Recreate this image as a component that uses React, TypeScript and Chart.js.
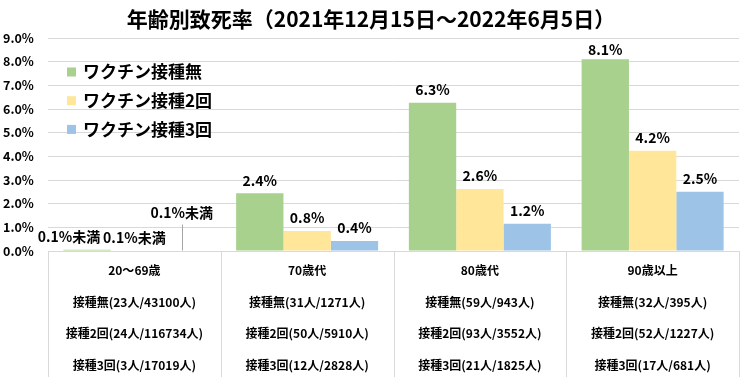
import React, { useEffect, useRef } from "react";
import { Chart, registerables } from "chart.js";

Chart.register(...registerables);

const FONT = "'Noto Sans CJK JP', 'Noto Sans', sans-serif";

const TITLE = "年齢別致死率（2021年12月15日～2022年6月5日）";

const CATEGORY_LINES: string[][] = [
  ["20～69歳", "接種無(23人/43100人)", "接種2回(24人/116734人)", "接種3回(3人/17019人)"],
  ["70歳代", "接種無(31人/1271人)", "接種2回(50人/5910人)", "接種3回(12人/2828人)"],
  ["80歳代", "接種無(59人/943人)", "接種2回(93人/3552人)", "接種3回(21人/1825人)"],
  ["90歳以上", "接種無(32人/395人)", "接種2回(52人/1227人)", "接種3回(17人/681人)"],
];

const SERIES_NAMES = ["ワクチン接種無", "ワクチン接種2回", "ワクチン接種3回"];

const UNVACCINATED = [0.05, 2.44, 6.26, 8.1];
const TWO_DOSES = [0.02, 0.85, 2.62, 4.24];
const THREE_DOSES = [0.02, 0.42, 1.15, 2.5];

const UNVACCINATED_LABELS = ["0.1%未満", "2.4%", "6.3%", "8.1%"];
const TWO_DOSES_LABELS = ["0.1%未満", "0.8%", "2.6%", "4.2%"];
const THREE_DOSES_LABELS = ["0.1%未満", "0.4%", "1.2%", "2.5%"];

const Y_MIN = 0;
const Y_MAX = 9;
const Y_STEP = 1;

const COLORS = ["#A9D18E", "#FFE699", "#9DC3E6"];
const GRID = "#D9D9D9";

// label placement tweaks for the crowded first group: [dx, extraRise, leaderLine]
const FIRST_GROUP_LABEL_SHIFT: [number, number, boolean][] = [
  [-18, 0, false],
  [0, 0, false],
  [0, 25, true],
];

const ALL_LABELS = [UNVACCINATED_LABELS, TWO_DOSES_LABELS, THREE_DOSES_LABELS];

const dataLabelPlugin = {
  id: "dataLabels",
  afterDatasetsDraw(chart: any) {
    const ctx = chart.ctx;
    ctx.save();
    ctx.font = `bold 14px ${FONT}`;
    ctx.fillStyle = "#000";
    ctx.textAlign = "center";
    ctx.textBaseline = "middle";
    chart.data.datasets.forEach((ds: any, di: number) => {
      const meta = chart.getDatasetMeta(di);
      meta.data.forEach((el: any, i: number) => {
        let dx = 0;
        let rise = 0;
        let leader = false;
        if (i === 0) {
          [dx, rise, leader] = FIRST_GROUP_LABEL_SHIFT[di];
        }
        const y = Math.max(el.y - 13 - rise, 50);
        if (leader) {
          ctx.save();
          ctx.strokeStyle = "#A6A6A6";
          ctx.lineWidth = 1;
          ctx.beginPath();
          ctx.moveTo(Math.round(el.x) + 0.5, y + 12);
          ctx.lineTo(Math.round(el.x) + 0.5, el.y);
          ctx.stroke();
          ctx.restore();
        }
        ctx.fillText(ALL_LABELS[di][i], el.x + dx, y);
      });
    });
    ctx.restore();
  },
};

const legendPlugin = {
  id: "insideLegend",
  afterDraw(chart: any) {
    const ctx = chart.ctx;
    const area = chart.chartArea;
    ctx.save();
    ctx.font = `bold 17px ${FONT}`;
    ctx.textBaseline = "middle";
    ctx.textAlign = "left";
    chart.data.datasets.forEach((ds: any, i: number) => {
      const cy = area.top + 34 + i * 28.7;
      ctx.fillStyle = ds.backgroundColor;
      ctx.fillRect(area.left + 19, cy - 4.5, 9, 9);
      ctx.fillStyle = "#000";
      ctx.fillText(ds.label, area.left + 35, cy);
    });
    ctx.restore();
  },
};

const tablePlugin = {
  id: "categoryTable",
  afterDraw(chart: any) {
    const ctx = chart.ctx;
    const xs = chart.scales.x;
    const area = chart.chartArea;
    const n = chart.data.labels.length;
    const w = n > 1 ? xs.getPixelForValue(1) - xs.getPixelForValue(0) : area.right - area.left;
    const start = xs.getPixelForValue(0) - w / 2;
    ctx.save();
    ctx.strokeStyle = GRID;
    ctx.lineWidth = 1;
    for (let k = 0; k <= n; k++) {
      const x = Math.round(start + k * w) + 0.5;
      ctx.beginPath();
      ctx.moveTo(x, area.bottom);
      ctx.lineTo(x, chart.height);
      ctx.stroke();
    }
    ctx.restore();
  },
};

export default function App() {
  const ref = useRef<HTMLCanvasElement>(null);

  useEffect(() => {
    const chart = new Chart(ref.current as HTMLCanvasElement, {
      type: "bar",
      data: {
        labels: CATEGORY_LINES,
        datasets: [
          { label: SERIES_NAMES[0], data: UNVACCINATED, backgroundColor: COLORS[0] },
          { label: SERIES_NAMES[1], data: TWO_DOSES, backgroundColor: COLORS[1] },
          { label: SERIES_NAMES[2], data: THREE_DOSES, backgroundColor: COLORS[2] },
        ],
      },
      options: {
        animation: false,
        responsive: false,
        layout: { padding: { left: 3, right: 1, top: 0, bottom: 0 } },
        datasets: {
          bar: { categoryPercentage: 0.822, barPercentage: 1 },
        },
        plugins: {
          legend: { display: false },
          tooltip: { enabled: false },
          title: {
            display: true,
            text: TITLE,
            color: "#000",
            font: { family: FONT, size: 21, weight: "bold", lineHeight: 1.2 },
            padding: { top: 6, bottom: 6.8 },
          },
        },
        scales: {
          x: {
            grid: { display: false },
            border: { display: true, color: GRID },
            ticks: {
              color: "#000",
              autoSkip: false,
              maxRotation: 0,
              minRotation: 0,
              padding: -4,
              font: { family: FONT, size: 12, weight: "bold", lineHeight: "31.5px" },
            },
            afterFit(scale: any) {
              scale.height = 126;
            },
          },
          y: {
            min: Y_MIN,
            max: Y_MAX,
            grid: { color: GRID, drawTicks: false },
            border: { display: false },
            ticks: {
              stepSize: Y_STEP,
              color: "#000",
              crossAlign: "far",
              font: { family: FONT, size: 12.5, weight: "bold" },
              callback: (v: any) => Number(v).toFixed(1) + "%",
            },
            afterFit(scale: any) {
              scale.width = 45;
            },
          },
        },
      } as any,
      plugins: [dataLabelPlugin, legendPlugin, tablePlugin],
    });
    return () => chart.destroy();
  }, []);

  return (
    <div style={{ position: "absolute", left: 0, top: 0, width: 740, height: 377, background: "#fff" }}>
      <canvas ref={ref} width={740} height={377} />
    </div>
  );
}
